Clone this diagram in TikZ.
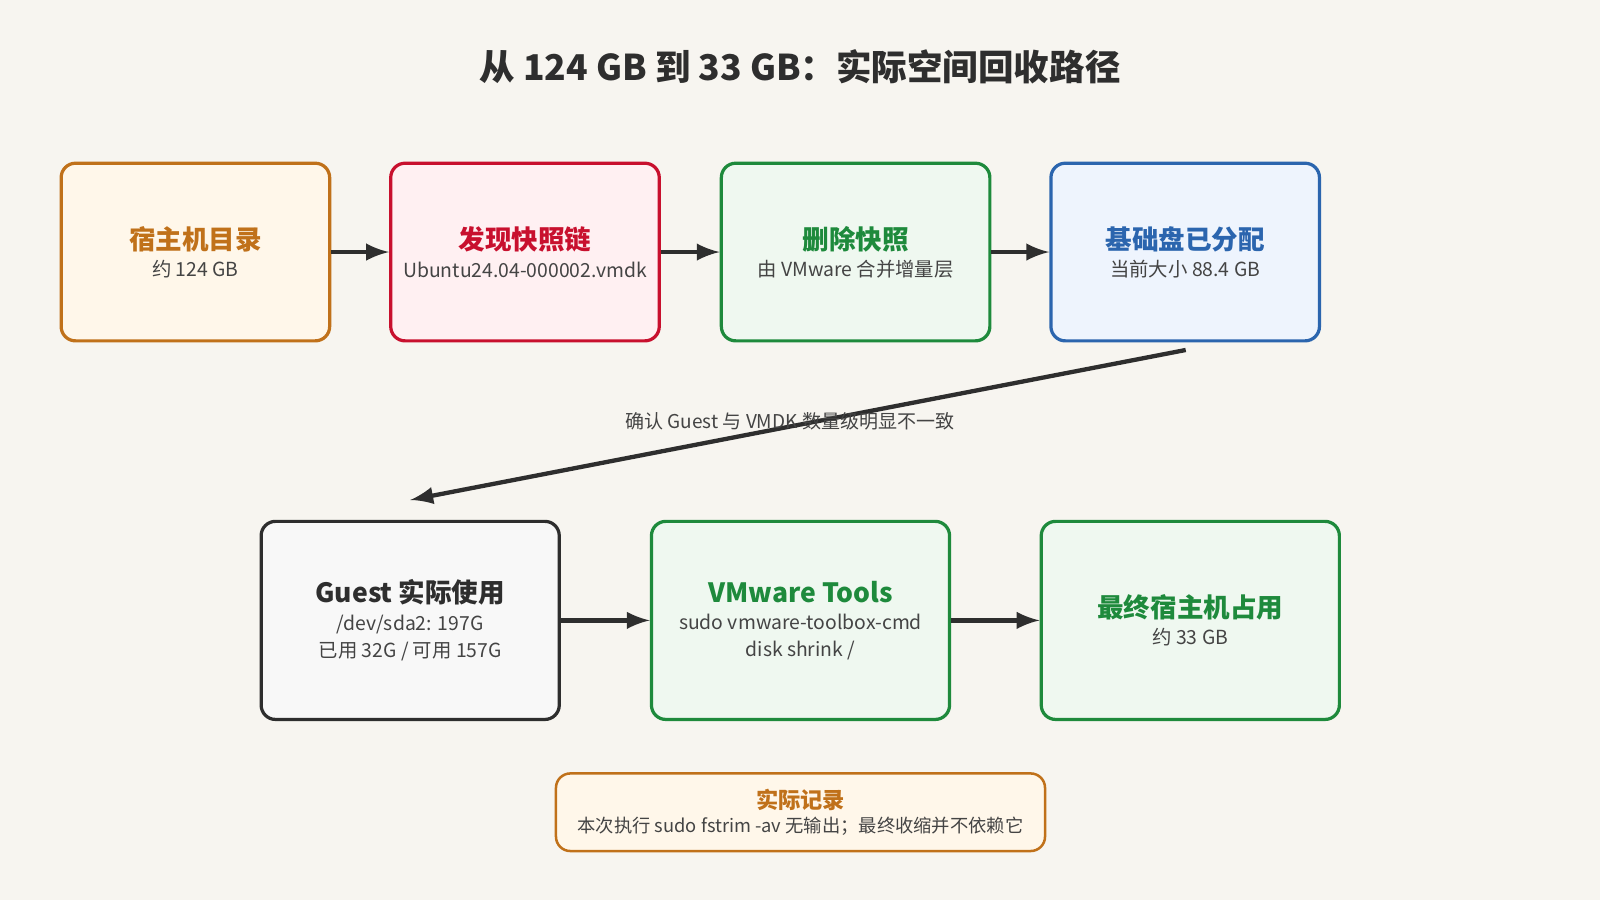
\documentclass[tikz,border=0pt]{standalone}
\usepackage{fontspec}
\setmainfont{Noto Sans CJK SC}
\usepackage{tikz}
\usetikzlibrary{positioning}
\definecolor{bgc}{HTML}{F7F5F0}
\definecolor{orgD}{HTML}{C0711A}\definecolor{orgL}{HTML}{FFF7EA}
\definecolor{redD}{HTML}{C8102E}\definecolor{redL}{HTML}{FFF0F2}
\definecolor{grnD}{HTML}{1E8A3C}\definecolor{grnL}{HTML}{EFF8F0}
\definecolor{bluD}{HTML}{2B65AE}\definecolor{bluL}{HTML}{EEF4FD}
\definecolor{gryD}{HTML}{2E2E2E}\definecolor{gryL}{HTML}{F8F8F8}
\definecolor{txt}{HTML}{444444}
\newcommand{\ttl}[1]{{\fontsize{7.4pt}{8pt}\selectfont\bfseries #1}}
\newcommand{\sub}[1]{{\color{txt}#1}}
\begin{document}
\begin{tikzpicture}[
            x = 0.01cm, y = -0.01cm,
            > = latex, % arrow head style
            box/.style = {draw, rounded corners=4pt, line width=0.9pt,
                          minimum width=2.63cm, minimum height=1.74cm, align=center,
                          font=\fontsize{5.4pt}{7.6pt}\selectfont},
            wide/.style = {box, minimum width=2.92cm, minimum height=1.94cm},
            flow/.style = {->, line width=1.2pt, color=gryD}
        ]
\fill[bgc] (0,0) rectangle (1568,882);
\useasboundingbox (0,0) rectangle (1568,882);
\node[text=gryD] (title) at (784,65) {\fontsize{9.9pt}{11pt}\selectfont\bfseries 从 124 GB 到 33 GB：实际空间回收路径};

\node[box, draw=orgD, fill=orgL, text=orgD] (host) at (191.5,247) {\ttl{宿主机目录}\\\sub{约 124 GB}};
\node[box, draw=redD, fill=redL, text=redD] (snap) at (514.5,247) {\ttl{发现快照链}\\\sub{Ubuntu24.04-000002.vmdk}};
\node[box, draw=grnD, fill=grnL, text=grnD] (del) at (838.5,247) {\ttl{删除快照}\\\sub{由 VMware 合并增量层}};
\node[box, draw=bluD, fill=bluL, text=bluD] (base) at (1161.5,247) {\ttl{基础盘已分配}\\\sub{当前大小 88.4 GB}};

\node[wide, draw=gryD, fill=gryL, text=gryD] (guest) at (402,608) {\ttl{Guest 实际使用}\\\sub{/dev/sda2: 197G}\\\sub{已用 32G / 可用 157G}};
\node[wide, draw=grnD, fill=grnL, text=grnD] (tools) at (784.5,608) {\ttl{VMware Tools}\\\sub{sudo vmware-toolbox-cmd}\\\sub{disk shrink /}};
\node[wide, draw=grnD, fill=grnL, text=grnD] (final) at (1166.5,608) {\ttl{最终宿主机占用}\\\sub{约 33 GB}};

\node[draw=orgD, fill=orgL, text=orgD, rounded corners=4pt, line width=0.7pt,
      minimum width=4.79cm, minimum height=0.76cm, align=center,
      font=\fontsize{5.1pt}{6.8pt}\selectfont] (note) at (784.5,796)
      {{\fontsize{6.2pt}{7pt}\selectfont\bfseries 实际记录}\\{\color{txt}本次执行 sudo fstrim -av 无输出；最终收缩并不依赖它}};

\coordinate (bend) at (1162,343);
\coordinate (land) at (402,490);

\draw[flow] (host) -- (snap);
\draw[flow] (snap) -- (del);
\draw[flow] (del) -- (base);
\draw[flow] (bend) -- (land);
\node[text=txt] (check) at (774,413) {\fontsize{5.3pt}{6pt}\selectfont 确认 Guest 与 VMDK 数量级明显不一致};
\draw[flow] (guest) -- (tools);
\draw[flow] (tools) -- (final);
\end{tikzpicture}
\end{document}
